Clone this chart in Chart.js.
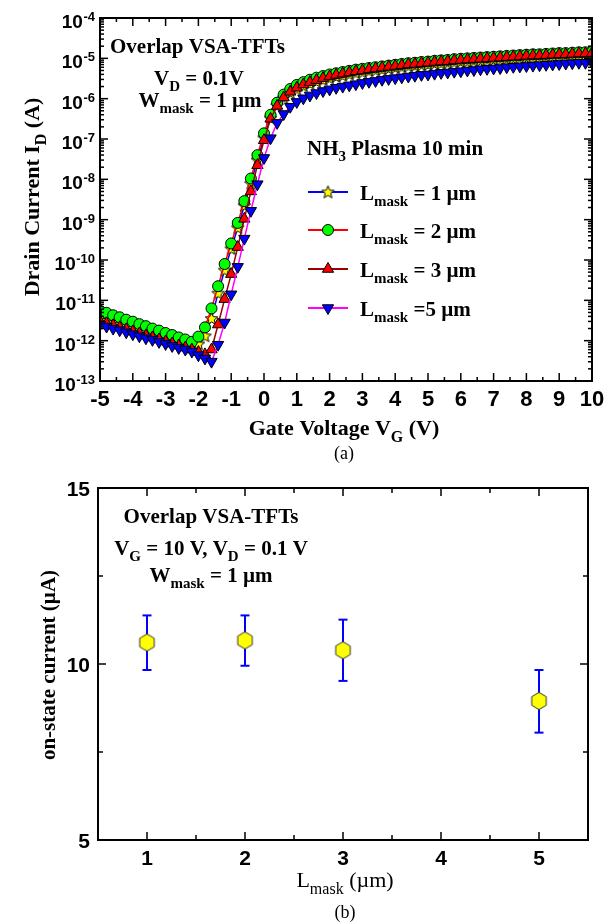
<!DOCTYPE html>
<html lang="en">
<head>
<meta charset="utf-8">
<title>Overlap VSA-TFTs</title>
<script src="https://cdn.jsdelivr.net/npm/chart.js@4.4.1/dist/chart.umd.min.js"></script>
<style>
  body { margin: 0; background: #fff; }
  #lienzo { position: relative; width: 610px; height: 924px; }
  #grafA { position: absolute; left: 0; top: 0; }
  #grafB { position: absolute; left: 0; top: 470px; }
</style>
</head>
<body>
<div id="lienzo">
  <canvas id="grafA" width="610" height="470"></canvas>
  <canvas id="grafB" width="610" height="454"></canvas>
</div>
<script>
// ---------- (a) I_D - V_G, V_D = 0.1 V ----------
const vGate = [
  -5, -4.8, -4.6, -4.4, -4.2, -4, -3.8, -3.6, -3.4, -3.2,
  -3, -2.8, -2.6, -2.4, -2.2, -2, -1.8, -1.6, -1.4, -1.2,
  -1, -0.8, -0.6, -0.4, -0.2, 0, 0.2, 0.4, 0.6, 0.8,
  1, 1.2, 1.4, 1.6, 1.8, 2, 2.2, 2.4, 2.6, 2.8,
  3, 3.2, 3.4, 3.6, 3.8, 4, 4.2, 4.4, 4.6, 4.8,
  5, 5.2, 5.4, 5.6, 5.8, 6, 6.2, 6.4, 6.6, 6.8,
  7, 7.2, 7.4, 7.6, 7.8, 8, 8.2, 8.4, 8.6, 8.8,
  9, 9.2, 9.4, 9.6, 9.8, 10
];

const logL1 = [
  -11.45, -11.50, -11.55, -11.60, -11.65, -11.70, -11.75, -11.80, -11.85, -11.90,
  -11.95, -12.00, -12.05, -12.10, -12.15, -12.08, -11.88, -11.45, -10.82, -10.25,
  -9.72, -9.20, -8.65, -8.10, -7.52, -6.97, -6.48, -6.17, -5.98, -5.85,
  -5.76, -5.68, -5.62, -5.57, -5.53, -5.49, -5.45, -5.42, -5.39, -5.36,
  -5.34, -5.31, -5.29, -5.27, -5.25, -5.23, -5.21, -5.19, -5.18, -5.16,
  -5.15, -5.13, -5.12, -5.11, -5.09, -5.08, -5.07, -5.06, -5.05, -5.04,
  -5.03, -5.02, -5.01, -5.00, -4.99, -4.98, -4.97, -4.97, -4.96, -4.95,
  -4.94, -4.94, -4.93, -4.92, -4.92, -4.91
];
const logL2 = [
  -11.26, -11.31, -11.37, -11.42, -11.48, -11.53, -11.59, -11.64, -11.70, -11.75,
  -11.81, -11.86, -11.92, -11.97, -12.03, -11.90, -11.67, -11.20, -10.65, -10.10,
  -9.59, -9.08, -8.54, -7.98, -7.40, -6.86, -6.40, -6.10, -5.90, -5.76,
  -5.66, -5.59, -5.53, -5.48, -5.44, -5.40, -5.37, -5.34, -5.31, -5.28,
  -5.26, -5.24, -5.22, -5.20, -5.18, -5.16, -5.14, -5.12, -5.11, -5.09,
  -5.08, -5.06, -5.05, -5.04, -5.02, -5.01, -5.00, -4.99, -4.98, -4.97,
  -4.96, -4.95, -4.94, -4.93, -4.92, -4.91, -4.90, -4.90, -4.89, -4.88,
  -4.87, -4.87, -4.86, -4.85, -4.85, -4.84
];
const logL3 = [
  -11.52, -11.57, -11.62, -11.67, -11.72, -11.77, -11.82, -11.87, -11.92, -11.97,
  -12.02, -12.07, -12.12, -12.17, -12.22, -12.28, -12.34, -12.22, -11.60, -10.97,
  -10.35, -9.68, -8.98, -8.30, -7.65, -7.03, -6.50, -6.18, -5.97, -5.83,
  -5.73, -5.65, -5.59, -5.54, -5.49, -5.45, -5.41, -5.38, -5.35, -5.32,
  -5.30, -5.27, -5.25, -5.23, -5.21, -5.19, -5.17, -5.15, -5.14, -5.12,
  -5.11, -5.09, -5.08, -5.07, -5.05, -5.04, -5.03, -5.02, -5.01, -5.00,
  -4.99, -4.98, -4.97, -4.96, -4.95, -4.94, -4.93, -4.93, -4.92, -4.91,
  -4.90, -4.90, -4.89, -4.88, -4.88, -4.87
];
const logL5 = [
  -11.60, -11.65, -11.70, -11.74, -11.79, -11.84, -11.89, -11.94, -11.98, -12.03,
  -12.08, -12.13, -12.18, -12.22, -12.27, -12.36, -12.44, -12.52, -12.10, -11.55,
  -10.85, -10.17, -9.47, -8.78, -8.12, -7.47, -6.98, -6.60, -6.38, -6.20,
  -6.08, -5.99, -5.92, -5.86, -5.81, -5.77, -5.73, -5.70, -5.67, -5.64,
  -5.61, -5.58, -5.56, -5.53, -5.51, -5.49, -5.47, -5.45, -5.43, -5.41,
  -5.40, -5.38, -5.36, -5.35, -5.33, -5.32, -5.30, -5.29, -5.27, -5.26,
  -5.25, -5.24, -5.22, -5.21, -5.20, -5.19, -5.18, -5.17, -5.16, -5.15,
  -5.14, -5.13, -5.12, -5.11, -5.11, -5.10
];
const leyendaL = ['= 1 µm', '= 2 µm', '= 3 µm', '=5 µm'];
const ticksVG = [-5, -4, -3, -2, -1, 0, 1, 2, 3, 4, 5, 6, 7, 8, 9, 10];
const decadas = [-4, -5, -6, -7, -8, -9, -10, -11, -12, -13];

// ---------- (b) corriente de encendido ----------
const lMask = [1, 2, 3, 5];
const ionMedia = [10.61, 10.67, 10.39, 8.95];
const ionAlto = [11.38, 11.38, 11.26, 9.83];
const ionBajo = [9.83, 9.95, 9.52, 8.05];
const ticksL = [1, 2, 3, 4, 5];
const ticksIon = [5, 10, 15];

const SERIF = "'Liberation Serif', 'DejaVu Serif', serif";
const SANS = "'Liberation Sans', Arial, sans-serif";

// estrella rellena (Chart.js solo trae la de lineas)
function hacerEstrella() {
  const c = document.createElement('canvas');
  c.width = 15; c.height = 15;
  const g = c.getContext('2d');
  g.beginPath();
  for (let i = 0; i < 10; i++) {
    const r = i % 2 ? 2.9 : 6.6;
    const a = -Math.PI / 2 + i * Math.PI / 5;
    g.lineTo(7.5 + r * Math.cos(a), 8 + r * Math.sin(a));
  }
  g.closePath();
  g.fillStyle = '#ffff00'; g.fill();
  g.strokeStyle = '#000'; g.lineWidth = 1; g.stroke();
  return c;
}
function hacerHexagono() {
  const c = document.createElement('canvas');
  c.width = 19; c.height = 20;
  const g = c.getContext('2d');
  g.beginPath();
  for (let i = 0; i < 6; i++) {
    const a = -Math.PI / 2 + i * Math.PI / 3;
    g.lineTo(9.5 + 8.4 * Math.cos(a), 10 + 8.6 * Math.sin(a));
  }
  g.closePath();
  g.fillStyle = '#ffff00'; g.fill();
  g.strokeStyle = '#333'; g.lineWidth = 1; g.stroke();
  return c;
}
const imgEstrella = hacerEstrella();
const imgHexagono = hacerHexagono();

// texto con subindices: partes = [[texto, ''|'sub'], ...], y = linea base
function textoRico(ctx, partes, x, y, alin, tam, peso) {
  const tamSub = Math.round(tam * 0.72);
  const fuente = (t) => `${peso} ${t}px ${SERIF}`;
  const anchos = partes.map(([t, tipo]) => {
    ctx.font = fuente(tipo ? tamSub : tam);
    return ctx.measureText(t).width;
  });
  const total = anchos.reduce((a, b) => a + b, 0);
  let cx = alin === 'center' ? x - total / 2 : (alin === 'right' ? x - total : x);
  ctx.textAlign = 'left';
  ctx.textBaseline = 'alphabetic';
  partes.forEach(([t, tipo], i) => {
    ctx.font = fuente(tipo ? tamSub : tam);
    ctx.fillText(t, cx, y + (tipo === 'sub' ? tam * 0.3 : 0));
    cx += anchos[i];
  });
}

function marcador(ctx, tipo, x, y) {
  ctx.save();
  ctx.lineWidth = 1;
  ctx.strokeStyle = '#000';
  if (tipo === 'estrella') {
    ctx.drawImage(imgEstrella, x - imgEstrella.width / 2, y - imgEstrella.height / 2);
  } else if (tipo === 'circulo') {
    ctx.beginPath(); ctx.arc(x, y, 5.5, 0, 2 * Math.PI);
    ctx.fillStyle = '#00ff00'; ctx.fill(); ctx.stroke();
  } else {
    const r = 6.5, s = tipo === 'abajo' ? -1 : 1, h = r * Math.sin(Math.PI / 3);
    ctx.beginPath();
    ctx.moveTo(x, y - s * r);
    ctx.lineTo(x + h, y + s * r / 2);
    ctx.lineTo(x - h, y + s * r / 2);
    ctx.closePath();
    ctx.fillStyle = tipo === 'abajo' ? '#0000ff' : '#ff0000';
    ctx.fill(); ctx.stroke();
  }
  ctx.restore();
}

function linea(ctx, x1, y1, x2, y2) {
  ctx.beginPath(); ctx.moveTo(x1, y1); ctx.lineTo(x2, y2); ctx.stroke();
}

const marcoA = {
  id: 'marcoA',
  afterDraw(chart) {
    const { ctx, chartArea: a, scales: { x: sx, y: sy } } = chart;
    ctx.save();
    ctx.fillStyle = '#000';
    ctx.strokeStyle = '#000';
    // ticks hacia adentro
    ctx.lineWidth = 1.5;
    for (let v = -5; v <= 10; v += 0.5) {
      const px = sx.getPixelForValue(v);
      const len = Number.isInteger(v) ? 8 : 4;
      linea(ctx, px, a.bottom, px, a.bottom - len);
      linea(ctx, px, a.top, px, a.top + len);
    }
    for (const k of decadas) {
      for (let m = 1; m <= 9; m++) {
        if (k === -4 && m > 1) continue;
        const py = sy.getPixelForValue(m * Math.pow(10, k));
        const len = m === 1 ? 8 : 4;
        linea(ctx, a.left, py, a.left + len, py);
        linea(ctx, a.right, py, a.right - len, py);
      }
    }
    ctx.lineWidth = 2;
    ctx.strokeRect(a.left, a.top, a.right - a.left, a.bottom - a.top);

    // etiquetas de ejes
    ctx.textAlign = 'center';
    ctx.textBaseline = 'alphabetic';
    ctx.font = `bold 22px ${SANS}`;
    ticksVG.forEach(v => ctx.fillText(String(v), sx.getPixelForValue(v), 406));
    ctx.textAlign = 'right';
    decadas.forEach(k => {
      const py = sy.getPixelForValue(Math.pow(10, k));
      ctx.font = `bold 13px ${SANS}`;
      const wSup = ctx.measureText(String(k)).width;
      ctx.fillText(String(k), 95, py + 3);
      ctx.font = `bold 19px ${SANS}`;
      ctx.fillText('10', 95 - wSup - 0.5, py + 10);
    });

    textoRico(ctx, [['Gate Voltage V', ''], ['G', 'sub'], [' (V)', '']], 344, 435, 'center', 22, 'bold');
    textoRico(ctx, [['(a)', '']], 344, 459, 'center', 18, 'normal');
    ctx.save();
    ctx.translate(39, 197);
    ctx.rotate(-Math.PI / 2);
    textoRico(ctx, [['Drain Current I', ''], ['D', 'sub'], [' (A)', '']], 0, 0, 'center', 22, 'bold');
    ctx.restore();

    // anotaciones
    textoRico(ctx, [['Overlap VSA-TFTs', '']], 110, 53, 'left', 21, 'bold');
    textoRico(ctx, [['V', ''], ['D', 'sub'], [' = 0.1V', '']], 199, 85, 'center', 21, 'bold');
    textoRico(ctx, [['W', ''], ['mask', 'sub'], [' = 1 µm', '']], 200, 107, 'center', 21, 'bold');
    textoRico(ctx, [['NH', ''], ['3', 'sub'], [' Plasma 10 min', '']], 307, 155, 'left', 21, 'bold');

    // leyenda
    const filas = [
      { y: 192, color: '#0000ff', tipo: 'estrella' },
      { y: 230, color: '#ff0000', tipo: 'circulo' },
      { y: 269, color: '#990000', tipo: 'arriba' },
      { y: 308, color: '#ff00ff', tipo: 'abajo' }
    ];
    filas.forEach((f, i) => {
      ctx.strokeStyle = f.color;
      ctx.lineWidth = 2;
      linea(ctx, 308, f.y, 348, f.y);
      marcador(ctx, f.tipo, 328, f.y);
      ctx.fillStyle = '#000';
      textoRico(ctx, [['L', ''], ['mask', 'sub'], [' ' + leyendaL[i], '']], 360, f.y + 8, 'left', 21, 'bold');
    });
    ctx.restore();
  }
};

function serie(logs) {
  return vGate.map((v, i) => ({ x: v, y: Math.pow(10, logs[i]) }));
}

new Chart(document.getElementById('grafA'), {
  type: 'line',
  data: {
    datasets: [
      {
        label: 'Lmask = 1 um', data: serie(logL1), order: 3,
        borderColor: '#0000ff', borderWidth: 1.5,
        pointStyle: imgEstrella, pointRadius: 6
      },
      {
        label: 'Lmask = 2 um', data: serie(logL2), order: 2,
        borderColor: '#ff0000', borderWidth: 1.5,
        pointStyle: 'circle', pointRadius: 5.5,
        pointBackgroundColor: '#00ff00', pointBorderColor: '#000', pointBorderWidth: 1
      },
      {
        label: 'Lmask = 3 um', data: serie(logL3), order: 1,
        borderColor: '#990000', borderWidth: 1.5,
        pointStyle: 'triangle', pointRadius: 6.5,
        pointBackgroundColor: '#ff0000', pointBorderColor: '#000', pointBorderWidth: 1
      },
      {
        label: 'Lmask = 5 um', data: serie(logL5), order: 0,
        borderColor: '#ff00ff', borderWidth: 1.5,
        pointStyle: 'triangle', pointRotation: 180, pointRadius: 6.5,
        pointBackgroundColor: '#0000ff', pointBorderColor: '#000', pointBorderWidth: 1
      }
    ]
  },
  options: {
    responsive: false,
    animation: false,
    layout: { padding: { left: 100, right: 18, top: 18, bottom: 89 } },
    scales: {
      x: { type: 'linear', min: -5, max: 10, display: false },
      y: { type: 'logarithmic', min: 1e-13, max: 1e-4, display: false }
    },
    plugins: { legend: { display: false }, tooltip: { enabled: false } }
  },
  plugins: [marcoA]
});

// ---------- (b) ----------
const barrasError = {
  id: 'barrasError',
  beforeDatasetsDraw(chart) {
    const { ctx, scales: { x, y } } = chart;
    ctx.save();
    ctx.strokeStyle = '#0000ff';
    ctx.lineWidth = 2;
    lMask.forEach((l, i) => {
      const px = x.getPixelForValue(l);
      const yA = y.getPixelForValue(ionAlto[i]);
      const yB = y.getPixelForValue(ionBajo[i]);
      linea(ctx, px, yA, px, yB);
      linea(ctx, px - 4.5, yA, px + 4.5, yA);
      linea(ctx, px - 4.5, yB, px + 4.5, yB);
    });
    ctx.restore();
  }
};

const marcoB = {
  id: 'marcoB',
  afterDraw(chart) {
    const { ctx, chartArea: a, scales: { x: sx, y: sy } } = chart;
    ctx.save();
    ctx.fillStyle = '#000';
    ctx.strokeStyle = '#000';
    ctx.lineWidth = 1.5;
    for (let v = 1; v <= 5; v += 0.5) {
      const px = sx.getPixelForValue(v);
      const len = Number.isInteger(v) ? 8 : 5;
      linea(ctx, px, a.bottom, px, a.bottom - len);
      linea(ctx, px, a.top, px, a.top + len);
    }
    for (let v = 5; v <= 15; v += 2.5) {
      const py = sy.getPixelForValue(v);
      const len = v % 5 === 0 ? 8 : 5;
      linea(ctx, a.left, py, a.left + len, py);
      linea(ctx, a.right, py, a.right - len, py);
    }
    ctx.lineWidth = 2;
    ctx.strokeRect(a.left, a.top, a.right - a.left, a.bottom - a.top);

    ctx.font = `bold 21px ${SANS}`;
    ctx.textAlign = 'center';
    ctx.textBaseline = 'alphabetic';
    ticksL.forEach(v => ctx.fillText(String(v), sx.getPixelForValue(v), 395));
    ctx.textAlign = 'right';
    ticksIon.forEach(v => ctx.fillText(String(v), 90, sy.getPixelForValue(v) + 8));

    textoRico(ctx, [['L', ''], ['mask', 'sub'], [' (µm)', '']], 345, 417, 'center', 22, 'normal');
    textoRico(ctx, [['(b)', '']], 345, 448, 'center', 18, 'normal');
    ctx.save();
    ctx.translate(55, 195);
    ctx.rotate(-Math.PI / 2);
    textoRico(ctx, [['on-state current (µA)', '']], 0, 0, 'center', 21, 'bold');
    ctx.restore();

    textoRico(ctx, [['Overlap VSA-TFTs', '']], 211, 53, 'center', 21, 'bold');
    textoRico(ctx, [['V', ''], ['G', 'sub'], [' = 10 V, V', ''], ['D', 'sub'], [' = 0.1 V', '']], 211, 85, 'center', 21, 'bold');
    textoRico(ctx, [['W', ''], ['mask', 'sub'], [' = 1 µm', '']], 211, 112, 'center', 21, 'bold');
    ctx.restore();
  }
};

new Chart(document.getElementById('grafB'), {
  type: 'scatter',
  data: {
    datasets: [{
      label: 'on-state current',
      data: lMask.map((l, i) => ({ x: l, y: ionMedia[i] })),
      pointStyle: imgHexagono,
      pointRadius: 9
    }]
  },
  options: {
    responsive: false,
    animation: false,
    layout: { padding: { left: 98, right: 22, top: 18, bottom: 84 } },
    scales: {
      x: { type: 'linear', min: 0.5, max: 5.5, display: false },
      y: { type: 'linear', min: 5, max: 15, display: false }
    },
    plugins: { legend: { display: false }, tooltip: { enabled: false } }
  },
  plugins: [barrasError, marcoB]
});
</script>
</body>
</html>
